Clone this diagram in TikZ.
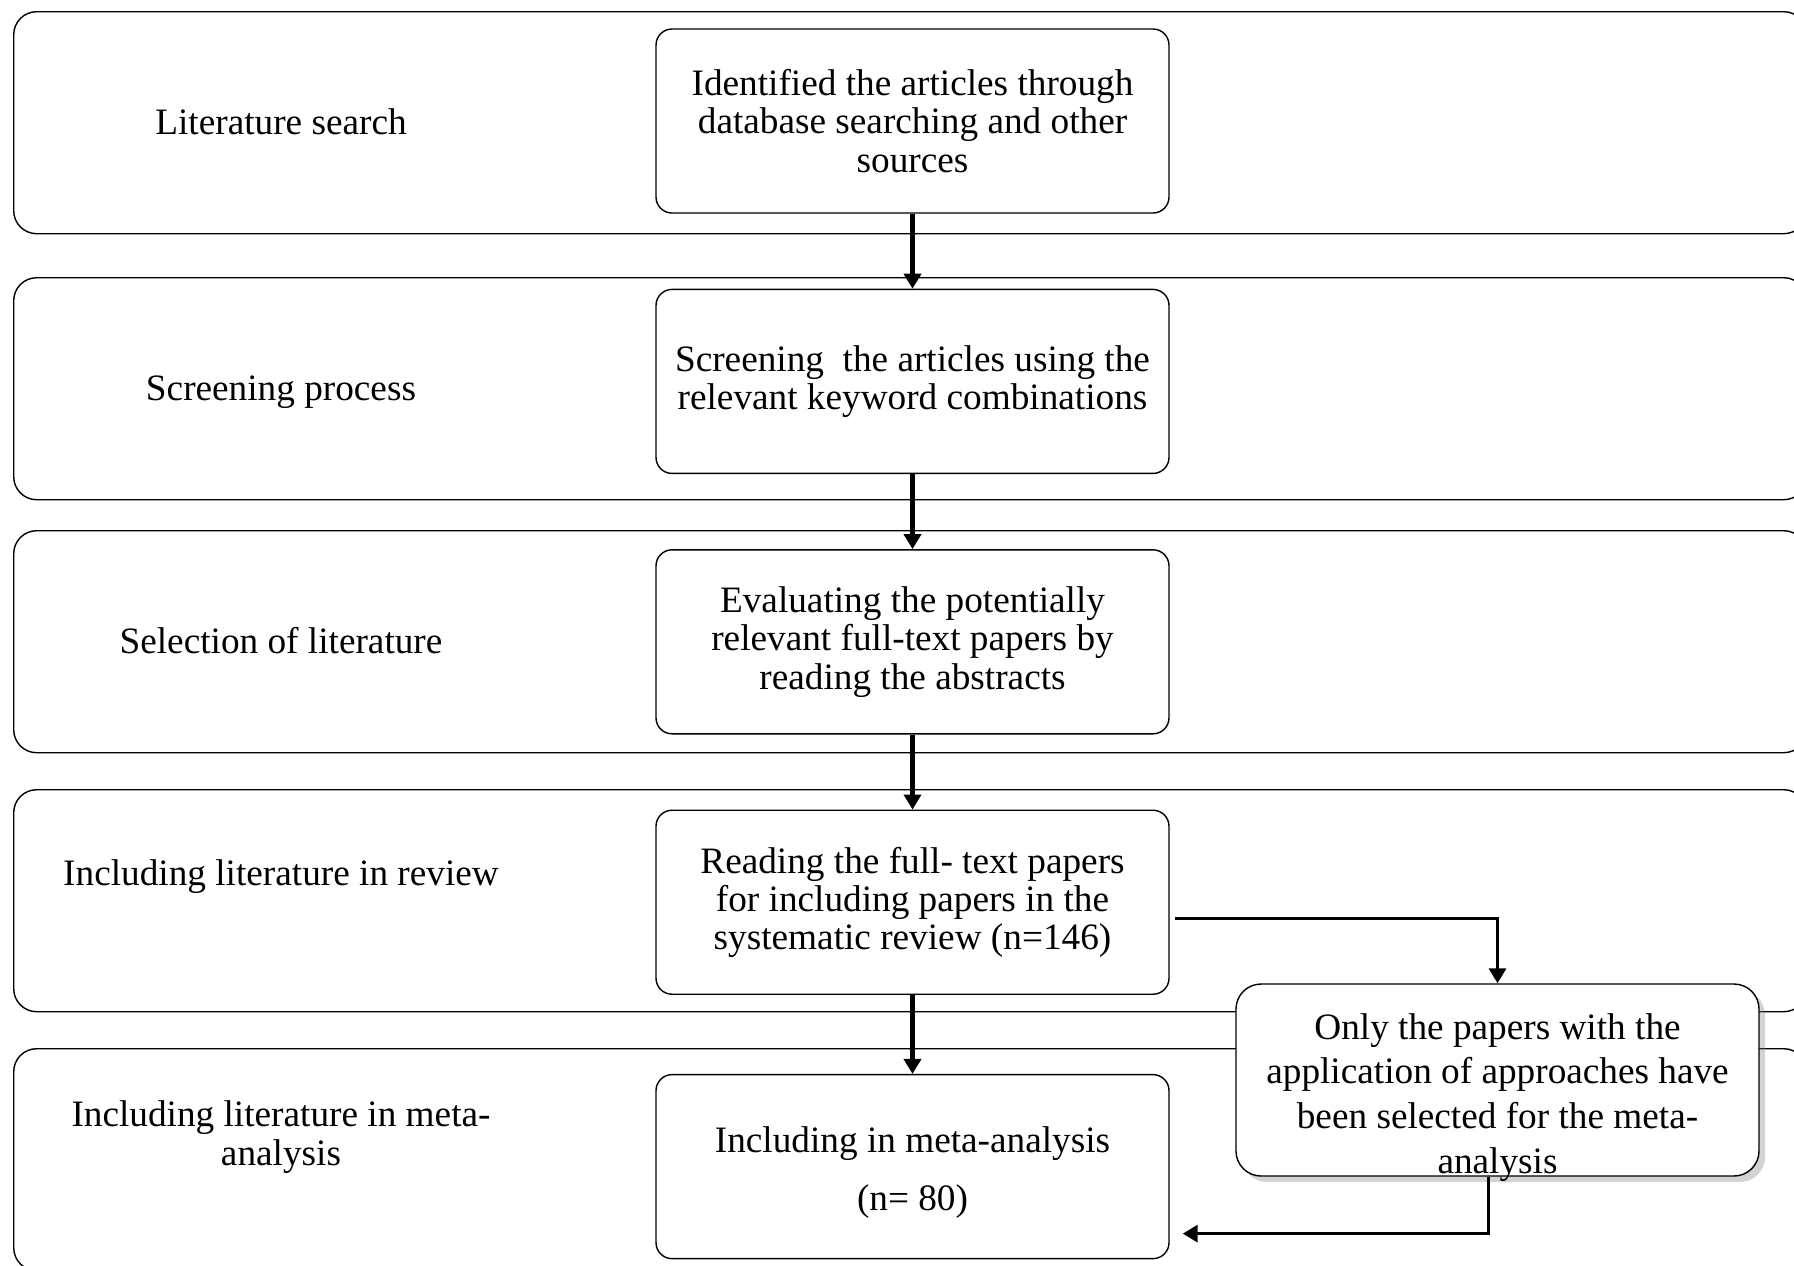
\documentclass[tikz,border=0pt]{standalone}
\usepackage{fontspec}
\setmainfont{Liberation Serif}
\usetikzlibrary{arrows.meta,positioning,shadows}
\tikzset{
  band/.style={draw, rounded corners=2.3mm, anchor=north west, minimum width=179.3mm,
               minimum height=22.2mm, inner sep=0pt, line width=0.4pt},
  stage/.style={align=center, font=\fontsize{10.6}{10.9}\selectfont, inner sep=0pt},
  pbox/.style={draw, fill=white, rounded corners=1.6mm, align=center,
               font=\fontsize{10.6}{10.9}\selectfont, minimum width=51.3mm,
               minimum height=18.4mm, inner sep=2pt, line width=0.4pt},
  notebox/.style={draw, fill=white, rounded corners=2.5mm, align=center,
               font=\fontsize{10.6}{12.7}\selectfont, minimum width=52.3mm,
               inner xsep=2pt, inner ysep=0pt, text height=18.9mm, text depth=0.3mm,
               line width=0.4pt,
               drop shadow={shadow xshift=0.6mm, shadow yshift=-0.6mm, opacity=0.35}},
  flow/.style={-{Triangle[length=1.5mm, width=1.7mm]}, line width=1.3pt},
  elbow/.style={-{Triangle[length=1.5mm, width=1.7mm]}, line width=0.9pt},
}
\begin{document}
\begin{tikzpicture}[x=0.1mm, y=-0.1mm, node distance=7.5mm]
  \useasboundingbox (0,0) rectangle (1794,1265);
  \clip (0,0) rectangle (1794,1265);
  % stage bands
  \node[band] (band1) at (13,11) {};
  \node[band] (band2) at (13,277) {};
  \node[band] (band3) at (13,530) {};
  \node[band] (band4) at (13,789) {};
  \node[band] (band5) at (13,1048) {};
  \node[stage] (lab1) at (281,122) {Literature search};
  \node[stage] (lab2) at (281,392) {Screening process};
  \node[stage] (lab3) at (281,641) {Selection of literature};
  \node[stage] (lab4) at (281,877) {Including literature in review};
  \node[stage] (lab5) at (281,1137) {Including literature in meta-\\ analysis};
  % process boxes
  \node[pbox] (box1) at (912.5,121) {Identified the articles through\\ database searching and other\\ sources};
  \node[pbox] (box2) [below=of box1] {Screening\ \ the articles using the\\ relevant keyword combinations};
  \node[pbox] (box3) [below=of box2] {Evaluating the potentially\\ relevant full-text papers by\\ reading the abstracts};
  \node[pbox] (box4) [below=of box3] {Reading the full- text papers\\ for including papers in the\\ systematic review (n=146)};
  \node[pbox, text height=9.5mm] (box5) [below=7.9mm of box4] {Including in meta-analysis\\[5.6pt] (n= 80)};
  \node[notebox] (note) at (1497.5,1080) {Only the papers with the\\ application of approaches have\\ been selected for the meta-\\ analysis};
  \draw[flow] (box1) -- (box2);
  \draw[flow] (box2) -- (box3);
  \draw[flow] (box3) -- (box4);
  \draw[flow] (box4) -- (box5);
  \draw[elbow] ([xshift=0.5mm, yshift=-1.6mm]box4.east) -| (note.north);
  \draw[elbow] ([xshift=-0.9mm]note.south) |- ([xshift=1.3mm, yshift=-6.7mm]box5.east);
\end{tikzpicture}
\end{document}
